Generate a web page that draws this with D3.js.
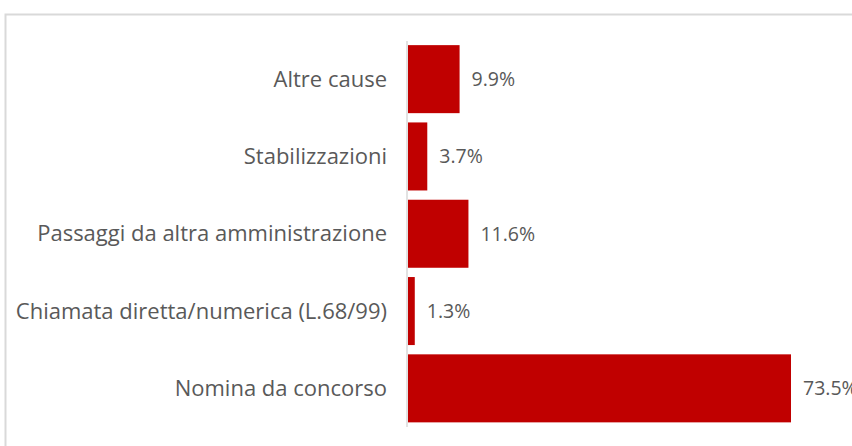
<!DOCTYPE html>
<html>
<head>
<meta charset="utf-8">
<script src="https://cdn.jsdelivr.net/npm/d3@7"></script>
<style>
  body { margin: 0; background: #fff; }
  text { font-family: "Open Sans", "Noto Sans", sans-serif; }
</style>
</head>
<body>
<div id="chart"></div>
<script>
// categories top to bottom, values in percent
const categories = ["Altre cause", "Stabilizzazioni", "Passaggi da altra amministrazione",
    "Chiamata diretta/numerica (L.68/99)", "Nomina da concorso"];
const values = [9.9, 3.7, 11.6, 1.3, 73.5];

const W = 852, H = 446;

const svg = d3.select('#chart')
    .append('svg')
    .attr('width', W)
    .attr('height', H);

// chart area frame (only top and left edges visible in crop)
svg.append('path')
    .attr('d', 'M5.5,446 V14.5 H852')
    .attr('fill', 'none')
    .attr('stroke', '#d9d9d9')
    .attr('stroke-width', 2);

const x = d3.scaleLinear()
    .domain([0, 73.5])
    .range([408, 791]);

const y = d3.scaleBand()
    .domain(categories)
    .range([40.5, 427])
    .paddingInner(0.12)
    .paddingOuter(0.06);

const data = categories.map((c, i) => ({ cat: c, val: values[i] }));

svg.selectAll('rect.bar')
    .data(data)
    .join('rect')
    .attr('class', 'bar')
    .attr('x', x(0))
    .attr('y', d => y(d.cat))
    .attr('width', d => x(d.val) - x(0))
    .attr('height', y.bandwidth())
    .attr('fill', '#c00000');

// vertical axis line
svg.append('line')
    .attr('x1', 407).attr('x2', 407)
    .attr('y1', 41).attr('y2', 427)
    .attr('stroke', '#d9d9d9')
    .attr('stroke-width', 1.5);

// category labels
svg.selectAll('text.cat')
    .data(data)
    .join('text')
    .attr('class', 'cat')
    .attr('x', 387)
    .attr('y', d => y(d.cat) + y.bandwidth() / 2)
    .attr('dy', '0.35em')
    .attr('text-anchor', 'end')
    .attr('font-size', '22px')
    .attr('fill', '#595959')
    .text(d => d.cat);

// value labels
svg.selectAll('text.val')
    .data(data)
    .join('text')
    .attr('class', 'val')
    .attr('x', d => x(d.val) + 12)
    .attr('y', d => y(d.cat) + y.bandwidth() / 2)
    .attr('dy', '0.35em')
    .attr('font-size', '19.5px')
    .attr('fill', '#595959')
    .text(d => d.val.toFixed(1) + '%');
</script>
</body>
</html>
